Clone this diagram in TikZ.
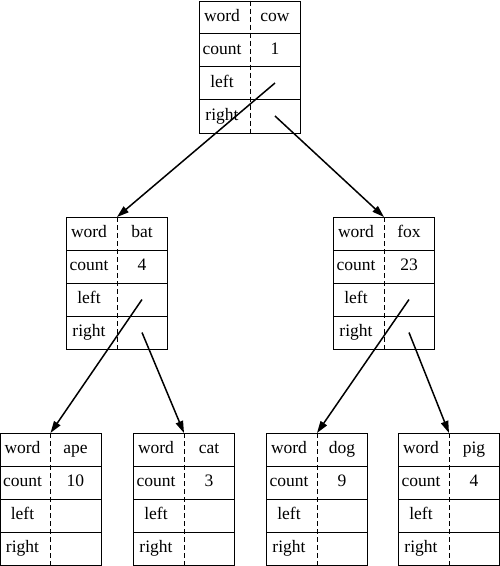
\documentclass[tikz,border=0pt]{standalone}
\usepackage{fontspec}
\setmainfont{Liberation Serif}
\usetikzlibrary{arrows.meta,calc}
\newcommand\treerec[5]{%
 \node[recbox] (#1) at (#2,#3) {};
 \draw[sep] (#1.north) -- (#1.south);
 \draw[rowline] ($(#1.north west)+(0,33)$) -- ($(#1.north east)+(0,33)$);
 \draw[rowline] ($(#1.north west)+(0,66)$) -- ($(#1.north east)+(0,66)$);
 \draw[rowline] ($(#1.north west)+(0,99)$) -- ($(#1.north east)+(0,99)$);
 \node[lbl] (#1-w) at ($(#1.north west)+(23,16.5)$) {word};
 \node[lbl] (#1-c) at ($(#1.north west)+(23,49.5)$) {count};
 \node[lbl] (#1-lt) at ($(#1.north west)+(23,82.5)$) {left};
 \node[lbl] (#1-rt) at ($(#1.north west)+(23,115.5)$) {right};
 \node[lbl] (#1-wv) at ($(#1.north)+(25,16.5)$) {#4};
 \node[lbl] (#1-cv) at ($(#1.north)+(25,49.5)$) {#5};
 \coordinate (#1-l) at ($(#1.north)+(25,82.5)$);
 \coordinate (#1-r) at ($(#1.north)+(25,115.5)$);
}
\begin{document}
\begin{tikzpicture}[x=1pt,y=-1pt,
 recbox/.style={draw, line width=1pt, minimum width=101pt, minimum height=132pt, inner sep=0pt, anchor=north},
 sep/.style={line width=0.8pt, dash pattern=on 5pt off 3pt},
 rowline/.style={line width=1pt},
 lbl/.style={font=\fontsize{17.5}{20}\selectfont, inner sep=0pt, text height=12pt, text depth=4pt},
 ptr/.style={line width=1.5pt, -{Triangle[length=12pt,width=7.5pt]}}]
\useasboundingbox (0,0) rectangle (500,566);
\treerec{cow}{250}{0.5}{cow}{1}
\treerec{bat}{117}{217}{bat}{4}
\treerec{fox}{384}{217}{fox}{23}
\treerec{ape}{50.5}{433}{ape}{10}
\treerec{cat}{184}{433}{cat}{3}
\treerec{dog}{317}{433}{dog}{9}
\treerec{pig}{449}{433}{pig}{4}
\draw[ptr] (cow-l) -- (bat.north);
\draw[ptr] (cow-r) -- (fox.north);
\draw[ptr] (bat-l) -- (ape.north);
\draw[ptr] (bat-r) -- (cat.north);
\draw[ptr] (fox-l) -- (dog.north);
\draw[ptr] (fox-r) -- (pig.north);
\end{tikzpicture}
\end{document}
